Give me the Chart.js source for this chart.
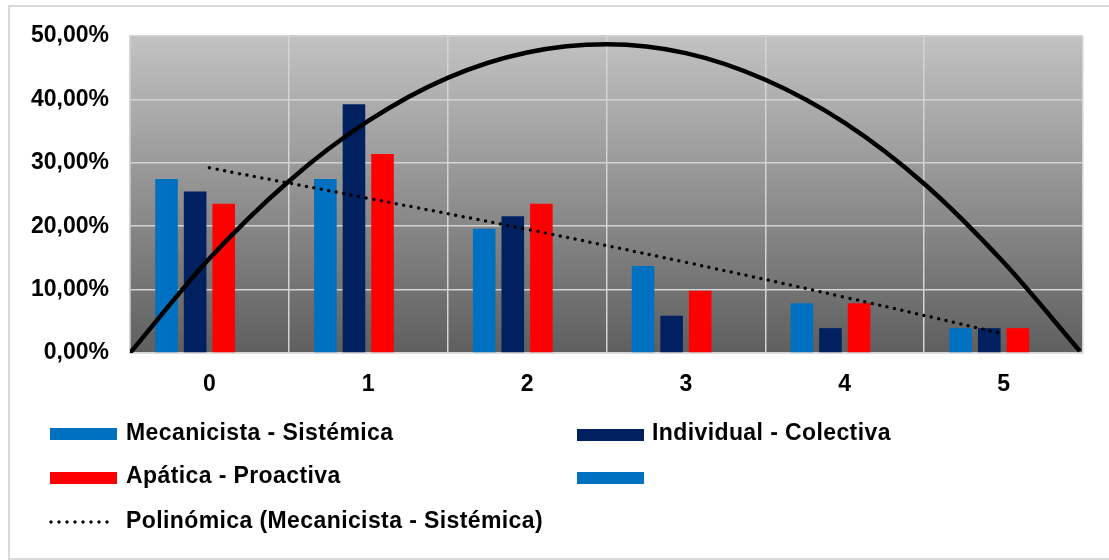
<!DOCTYPE html>
<html>
<head>
<meta charset="utf-8">
<script src="https://cdn.jsdelivr.net/npm/chart.js@4"></script>
<style>
  body { margin: 0; background: #fff; }
  #wrap { position: relative; width: 1109px; height: 560px; overflow: hidden; }
  #marco { position: absolute; left: 8px; top: 5px; width: 1120px; height: 551px; border: 2px solid #d9d9d9; }
  canvas { position: absolute; left: 0; top: 0; }
  .caja { position: absolute; width: 67px; height: 12px; }
  .txt { position: absolute; font: bold 23px "Liberation Sans", Arial, sans-serif; line-height: 23px;
         color: #000; white-space: nowrap; letter-spacing: 0.4px; }
  .puntos { position: absolute; left: 47px; width: 66px; height: 4px;
            background-image: radial-gradient(circle, #000 1.4px, transparent 1.8px);
            background-size: 8px 4px; }
</style>
</head>
<body>
<div id="wrap">
  <div id="marco"></div>
  <canvas id="grafico" width="1109" height="560"></canvas>
  <canvas id="curva" width="1109" height="560"></canvas>
  <div id="leyenda"></div>
</div>
<script>
// categorías y valores (%)
const categorias = ['0', '1', '2', '3', '4', '5'];
const mecanicista = [27.45, 27.45, 19.61, 13.73, 7.84, 3.92];
const individual = [25.49, 39.22, 21.57, 5.88, 3.92, 3.92];
const apatica = [23.53, 31.37, 23.53, 9.80, 7.84, 3.92];
const serieVacia = [0, 0, 0, 0, 0, 0];
// línea de tendencia polinómica
const tendencia = [29.2, 24.4, 19.5, 14.3, 8.8, 3.0];
// curva negra (x en unidades de categoría, y en %)
const curvaX = [-0.5, 0, 0.5, 1, 1.5, 2, 2.5, 3, 3.5, 4, 4.5, 5, 5.48];
const curvaY = [0, 14.9, 27.1, 36.6, 43.4, 47.4, 48.7, 47.3, 43.1, 36.3, 26.7, 14.3, 0.3];
const etiquetasY = ['0,00%', '10,00%', '20,00%', '30,00%', '40,00%', '50,00%'];

const azul = '#0070C0';
const marino = '#002060';
const rojo = '#FF0000';

const fuente = { family: '"Liberation Sans", Arial, sans-serif', size: 23, weight: 'bold' };

const fondoDegradado = {
    id: 'fondoDegradado',
    beforeDraw(chart) {
        const { ctx, chartArea: a } = chart;
        const g = ctx.createLinearGradient(0, a.top, 0, a.bottom);
        g.addColorStop(0, '#c2c2c2');
        g.addColorStop(1, '#5f5f5f');
        ctx.save();
        ctx.fillStyle = g;
        ctx.fillRect(a.left, a.top, a.right - a.left, a.bottom - a.top);
        ctx.restore();
    }
};

// gráfico principal: barras + tendencia
new Chart(document.getElementById('grafico').getContext('2d'), {
    type: 'bar',
    data: {
        labels: categorias,
        datasets: [
            {
                type: 'line', label: 'Polinómica (Mecanicista - Sistémica)', order: 0,
                data: tendencia, borderColor: '#000', borderWidth: 3.5,
                borderDash: [0, 7.6], borderCapStyle: 'round', pointRadius: 0,
                tension: 0.4, fill: false
            },
            { label: 'Mecanicista - Sistémica', data: mecanicista, backgroundColor: azul, order: 1 },
            { label: 'Individual - Colectiva', data: individual, backgroundColor: marino, order: 1 },
            { label: 'Apática - Proactiva', data: apatica, backgroundColor: rojo, order: 1 },
            { label: '', data: serieVacia, backgroundColor: azul, order: 1 }
        ]
    },
    options: {
        responsive: false,
        animation: false,
        devicePixelRatio: 1,
        categoryPercentage: 0.72,
        barPercentage: 0.79,
        layout: { padding: { left: 5, right: 26, top: 36, bottom: 157 } },
        plugins: { legend: { display: false }, tooltip: { enabled: false } },
        scales: {
            x: {
                grid: { color: '#d4d4d4', lineWidth: 1.5, drawTicks: false, offset: true },
                border: { color: '#d4d4d4', width: 1.5 },
                ticks: { color: '#000', font: fuente, padding: 18 },
                afterFit(s) { s.height = 50; s.paddingLeft = 0; s.paddingRight = 0; }
            },
            y: {
                min: 0, max: 50,
                grid: { color: '#d4d4d4', lineWidth: 1.5, drawTicks: false },
                border: { color: '#d4d4d4', width: 1.5 },
                ticks: {
                    stepSize: 10, color: '#000', font: fuente, padding: 21,
                    callback: (v, i) => etiquetasY[i]
                },
                afterFit(s) { s.width = 125; s.paddingTop = 0; s.paddingBottom = 0; }
            }
        }
    },
    plugins: [fondoDegradado]
});

// curva negra en un lienzo superpuesto con eje x lineal (misma área de trazado)
new Chart(document.getElementById('curva').getContext('2d'), {
    type: 'line',
    data: {
        datasets: [{
            data: curvaX.map((x, i) => ({ x: x, y: curvaY[i] })),
            borderColor: '#000', borderWidth: 4.5, pointRadius: 0,
            cubicInterpolationMode: 'monotone', fill: false
        }]
    },
    options: {
        responsive: false,
        animation: false,
        devicePixelRatio: 1,
        layout: { padding: { left: 130, right: 26, top: 36, bottom: 207 } },
        plugins: { legend: { display: false }, tooltip: { enabled: false } },
        scales: {
            x: { type: 'linear', display: false, min: -0.5, max: 5.5 },
            y: { display: false, min: 0, max: 50 }
        }
    }
});

// leyenda en dos columnas
const leyenda = document.getElementById('leyenda');
const items = [
    { tipo: 'caja', color: azul, x: 50, y: 428, texto: 'Mecanicista - Sistémica', tx: 126, ty: 421 },
    { tipo: 'caja', color: marino, x: 577, y: 429, texto: 'Individual - Colectiva', tx: 652, ty: 421 },
    { tipo: 'caja', color: rojo, x: 50, y: 472, texto: 'Apática - Proactiva', tx: 126, ty: 464 },
    { tipo: 'caja', color: azul, x: 577, y: 472, texto: '', tx: 652, ty: 464 },
    { tipo: 'puntos', x: 47, y: 520, texto: 'Polinómica (Mecanicista - Sistémica)', tx: 126, ty: 509 }
];
items.forEach(it => {
    const m = document.createElement('div');
    m.className = it.tipo;
    m.style.left = it.x + 'px';
    m.style.top = it.y + 'px';
    if (it.color) m.style.background = it.color;
    leyenda.appendChild(m);
    if (it.texto) {
        const t = document.createElement('div');
        t.className = 'txt';
        t.style.left = it.tx + 'px';
        t.style.top = it.ty + 'px';
        t.textContent = it.texto;
        leyenda.appendChild(t);
    }
});
</script>
</body>
</html>
